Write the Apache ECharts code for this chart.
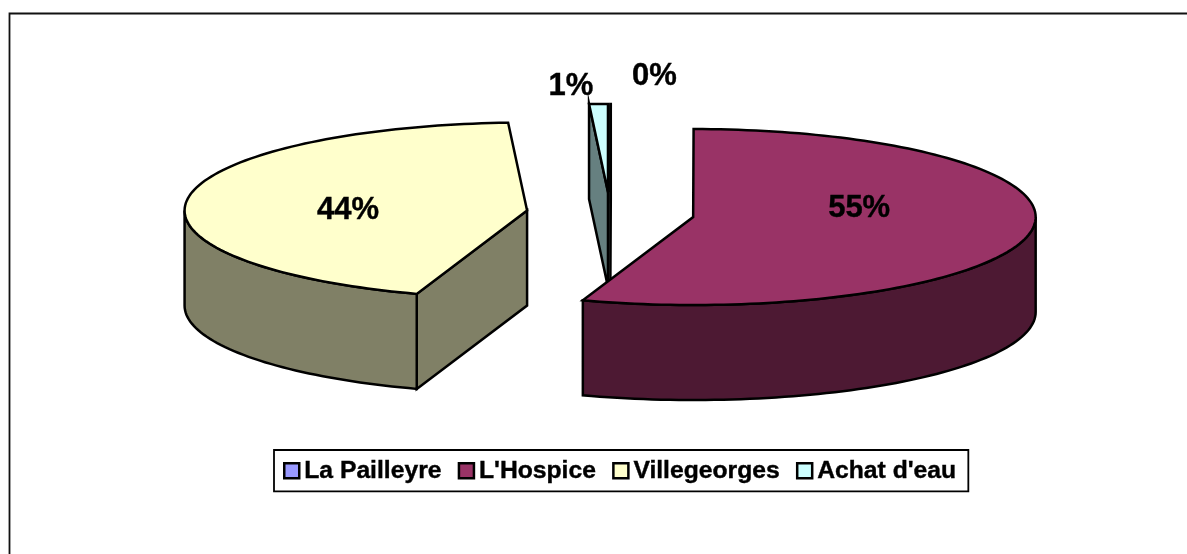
<!DOCTYPE html>
<html><head><meta charset="utf-8">
<style>html,body{margin:0;padding:0;background:#fff}#c{width:1187px;height:554px}</style>
<script src="https://cdn.jsdelivr.net/npm/echarts@6/dist/echarts.min.js"></script>
</head><body><div id="c"></div>
<script>
const categories = ["La Pailleyre", "L'Hospice", "Villegeorges", "Achat d'eau"];
const shares = [0.02, 55.2, 43.9, 0.88];
const topColors = ["#9999FF", "#993366", "#FFFFCC", "#CCFFFF"];
const sideColors = ["#4D4D80", "#4D1933", "#808066", "#668080"];

const PIE = {cx: 610.3, cy: 213.5, rx: 342.5, ry: 88, depth: 95, explode: 84};
const drawOrder = {"Achat d'eau": 2, "La Pailleyre": 3, "Villegeorges": 4, "L'Hospice": 5};
const labelOffset = {"La Pailleyre": [44, -115], "L'Hospice": [166, -9], "Villegeorges": [-179, 0], "Achat d'eau": [-37, -105]};
const total = shares.reduce((a, b) => a + b, 0);
const rad = d => d * Math.PI / 180;

function sliceAngles(i) {
  const before = shares.slice(0, i).reduce((a, b) => a + b, 0);
  return [before / total * 360, (before + shares[i]) / total * 360];
}
function renderSlice(i, api) {
  const value = api.value(0);
  const [a0] = sliceAngles(i);
  const a1 = a0 + value / total * 360;
  const mid = rad((a0 + a1) / 2);
  const cx = PIE.cx + PIE.explode * Math.sin(mid);
  const cy = PIE.cy - PIE.explode * Math.cos(mid) * PIE.ry / PIE.rx;
  const pt = d => [cx + PIE.rx * Math.sin(rad(d)), cy - PIE.ry * Math.cos(rad(d))];
  const drop = p => [p[0], p[1] + PIE.depth];
  const arc = (s, e) => {
    const n = Math.max(2, Math.ceil((e - s) / 1.5)), out = [];
    for (let k = 0; k <= n; k++) out.push(pt(s + (e - s) * k / n));
    return out;
  };
  const stroke = {stroke: '#000', lineWidth: 2.5, lineJoin: 'miter'};
  const children = [];
  const face = (pts, fill) => children.push({type: 'polygon', shape: {points: pts}, style: Object.assign({fill}, stroke)});
  const side = sideColors[i];
  if (Math.sin(rad(a0)) < -1e-6) face([[cx, cy], pt(a0), drop(pt(a0)), [cx, cy + PIE.depth]], side);
  if (Math.sin(rad(a1)) > 1e-6) face([[cx, cy], pt(a1), drop(pt(a1)), [cx, cy + PIE.depth]], side);
  const fs = Math.max(a0, 90), fe = Math.min(a1, 270);
  if (fe > fs) {
    const top = arc(fs, fe);
    face(top.concat(top.slice().reverse().map(drop)), side);
  }
  face([[cx, cy]].concat(arc(a0, a1)), topColors[i]);
  const off = labelOffset[categories[i]];
  children.push({
    type: 'text', z2: 10,
    style: {x: cx + off[0], y: cy + off[1], text: Math.round(value / total * 100) + '%',
      fill: '#000', stroke: '#000', lineWidth: 0.4, align: 'center', verticalAlign: 'middle',
      font: 'bold 31px "Liberation Sans", Arial, sans-serif'}
  });
  return {type: 'group', children};
}

const chart = echarts.init(document.getElementById('c'), null, {renderer: 'canvas'});
chart.setOption({
  animation: false,
  backgroundColor: '#fff',
  graphic: [
    {type: 'polyline', silent: true, shape: {points: [[9.5, 554], [9.5, 13.5], [1187, 13.5]]},
     style: {stroke: '#111', lineWidth: 1.8, fill: null}}
  ],
  legend: {
    data: categories, left: 274, top: 450, orient: 'horizontal',
    icon: 'rect', itemWidth: 15, itemHeight: 15, itemGap: 16,
    padding: [8, 12, 8, 9], borderColor: '#000', borderWidth: 1.8, backgroundColor: '#fff',
    selectedMode: false,
    textStyle: {fontFamily: '"Liberation Sans", Arial, sans-serif', fontWeight: 'bold', fontSize: 24.7, color: '#000', padding: [0, 0, 0, 0], textBorderColor: '#000', textBorderWidth: 0.4},
    itemStyle: {borderColor: '#000', borderWidth: 2.5}
  },
  series: categories.map((name, i) => ({
    type: 'custom', name, coordinateSystem: 'none', z: drawOrder[name], silent: true,
    itemStyle: {color: topColors[i]},
    data: [[shares[i]]],
    renderItem: (params, api) => renderSlice(i, api)
  }))
});
</script></body></html>
